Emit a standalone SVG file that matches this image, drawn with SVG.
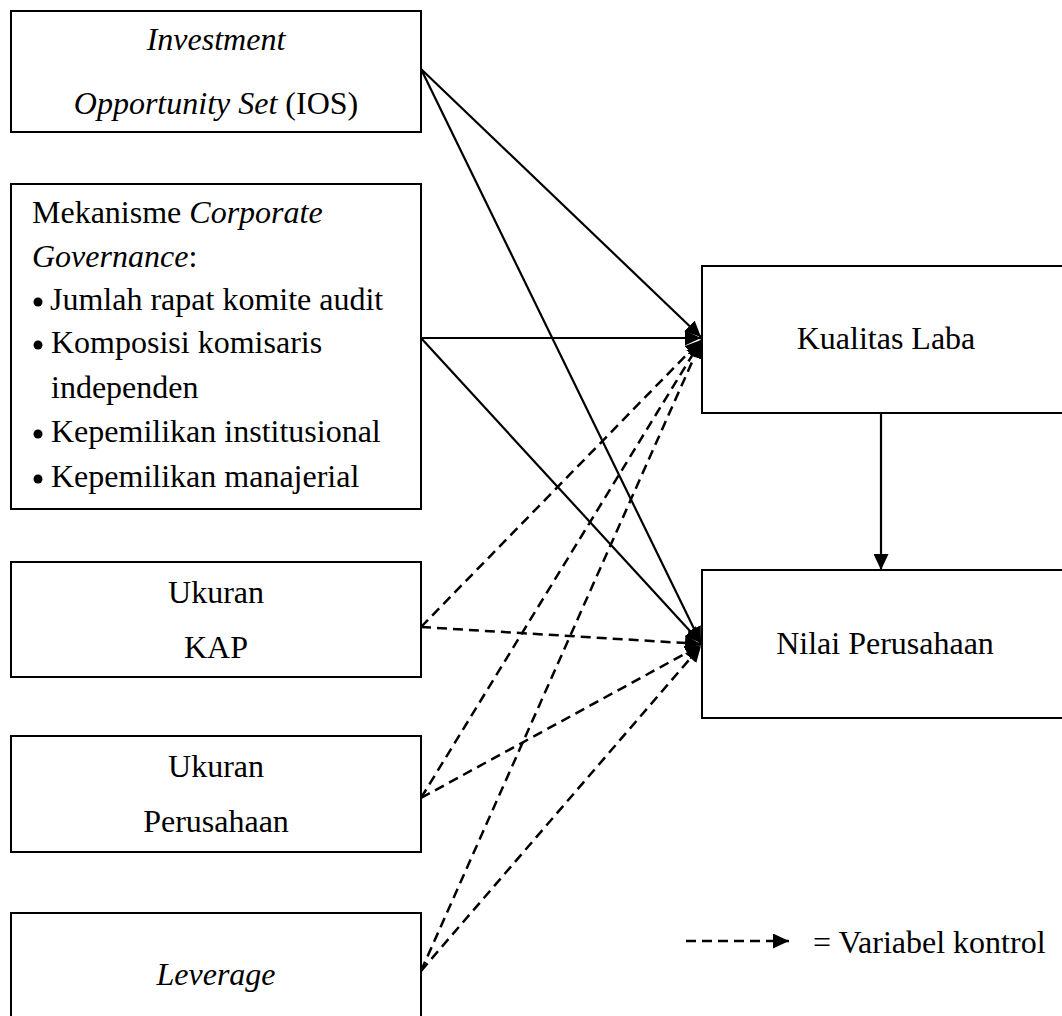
<svg xmlns="http://www.w3.org/2000/svg" width="1062" height="1016" viewBox="0 0 1062 1016">
<style>
.box{fill:#fff;stroke:#000;stroke-width:2}
text{font-family:"Liberation Serif","Times New Roman",serif;font-size:32px;fill:#000}
.c{text-anchor:middle}
.i{font-style:italic}
.solid{fill:none;stroke:#000;stroke-width:2.2}
.dash{fill:none;stroke:#000;stroke-width:2.5;stroke-dasharray:10 6}
</style>
<defs>
<marker id="ah" markerUnits="userSpaceOnUse" markerWidth="17" markerHeight="15" refX="16" refY="7.5" orient="auto" viewBox="0 0 17 15">
<path d="M0,0 L16,7.5 L0,15 Z" fill="#000"/>
</marker>
</defs>
<rect width="1062" height="1016" fill="#fff"/>
<g id="ios">
<rect class="box" x="11" y="11" width="410" height="121"/>
<text class="c i" x="216" y="50">Investment</text>
<text class="c" x="216" y="114"><tspan font-style="italic">Opportunity Set</tspan> (IOS)</text>
</g>
<g id="cg">
<rect class="box" x="11" y="184" width="410" height="325"/>
<text x="32" y="223">Mekanisme <tspan font-style="italic">Corporate</tspan></text>
<text x="32" y="267"><tspan font-style="italic">Governance</tspan>:</text>
<circle cx="38" cy="302" r="4.5"/>
<text x="50" y="310">Jumlah rapat komite audit</text>
<circle cx="38" cy="345" r="4.5"/>
<text x="51" y="353">Komposisi komisaris</text>
<text x="51" y="398">independen</text>
<circle cx="38" cy="434" r="4.5"/>
<text x="51" y="442">Kepemilikan institusional</text>
<circle cx="38" cy="479" r="4.5"/>
<text x="51" y="487">Kepemilikan manajerial</text>
</g>
<g id="kap">
<rect class="box" x="11" y="562" width="410" height="115"/>
<text class="c" x="216" y="603">Ukuran</text>
<text class="c" x="216" y="658">KAP</text>
</g>
<g id="size">
<rect class="box" x="11" y="736" width="410" height="116"/>
<text class="c" x="216" y="777">Ukuran</text>
<text class="c" x="216" y="832">Perusahaan</text>
</g>
<g id="lev">
<rect class="box" x="11" y="913" width="410" height="120"/>
<text class="c i" x="216" y="985">Leverage</text>
</g>
<g id="kl">
<rect class="box" x="702" y="266" width="380" height="147"/>
<text class="c" x="886" y="349">Kualitas Laba</text>
</g>
<g id="np">
<rect class="box" x="702" y="570" width="380" height="148"/>
<text class="c" x="885" y="654">Nilai Perusahaan</text>
</g>
<g id="connectors">
<line class="solid" x1="421" y1="69" x2="701" y2="337" marker-end="url(#ah)"/>
<line class="solid" x1="421" y1="69" x2="701" y2="643" marker-end="url(#ah)"/>
<line class="solid" x1="421" y1="338" x2="701" y2="338" marker-end="url(#ah)"/>
<line class="solid" x1="421" y1="338" x2="701" y2="643" marker-end="url(#ah)"/>
<line class="solid" x1="881" y1="413" x2="881" y2="570" marker-end="url(#ah)"/>
<line class="dash" x1="421" y1="627" x2="701" y2="340" marker-end="url(#ah)"/>
<line class="dash" x1="421" y1="627" x2="701" y2="644" marker-end="url(#ah)"/>
<line class="dash" x1="421" y1="798" x2="701" y2="341" marker-end="url(#ah)"/>
<line class="dash" x1="421" y1="798" x2="701" y2="645" marker-end="url(#ah)"/>
<line class="dash" x1="421" y1="971" x2="701" y2="342" marker-end="url(#ah)"/>
<line class="dash" x1="421" y1="971" x2="701" y2="646" marker-end="url(#ah)"/>
</g>
<g id="legend">
<line class="dash" x1="686" y1="941" x2="789" y2="941" marker-end="url(#ah)"/>
<text x="813" y="953">= Variabel kontrol</text>
</g>
</svg>
